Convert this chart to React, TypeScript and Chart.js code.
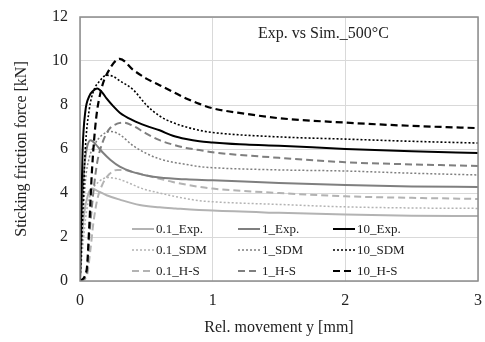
import React, { useEffect, useRef } from "react";
import { Chart, registerables } from "chart.js";

Chart.register(...registerables);

const FONT = "'Liberation Serif', 'Times New Roman', serif";

// ---- data ----
const xTickLabels = ["0", "1", "2", "3"];
const yTickLabels = ["0", "2", "4", "6", "8", "10", "12"];

const exp10X = [0, 0.01, 0.02, 0.04, 0.07, 0.1, 0.13, 0.17, 0.2, 0.25, 0.3, 0.4, 0.5, 0.6, 0.7, 0.8, 0.9, 1.0, 1.25, 1.5, 2, 2.5, 3];
const exp10Y = [0, 3.5, 6, 7.7, 8.4, 8.65, 8.75, 8.55, 8.3, 7.95, 7.65, 7.3, 7.05, 6.85, 6.6, 6.45, 6.35, 6.3, 6.2, 6.15, 6.0, 5.9, 5.82];
const sdm10X = [0, 0.02, 0.04, 0.07, 0.1, 0.15, 0.2, 0.25, 0.3, 0.4, 0.5, 0.6, 0.7, 0.8, 0.9, 1.0, 1.5, 2, 2.5, 3];
const sdm10Y = [0, 3, 6, 7.8, 8.6, 9.1, 9.35, 9.3, 9.1, 8.7, 8.0, 7.5, 7.2, 7.0, 6.85, 6.75, 6.55, 6.45, 6.35, 6.27];
const hs10X = [0, 0.05, 0.07, 0.09, 0.12, 0.16, 0.22, 0.3, 0.4, 0.5, 0.6, 0.7, 0.8, 0.9, 1.0, 1.25, 1.5, 2, 2.5, 3];
const hs10Y = [0, 0.5, 2.5, 5.0, 7.3, 8.7, 9.6, 10.1, 9.6, 9.2, 8.9, 8.6, 8.3, 8.05, 7.85, 7.6, 7.4, 7.2, 7.05, 6.95];

const exp1X = [0, 0.01, 0.03, 0.05, 0.08, 0.12, 0.17, 0.23, 0.3, 0.4, 0.5, 0.6, 0.8, 1, 1.5, 2, 2.5, 3];
const exp1Y = [0, 2.5, 5, 6, 6.4, 6.2, 5.85, 5.5, 5.2, 4.95, 4.8, 4.7, 4.62, 4.58, 4.45, 4.36, 4.3, 4.27];
const sdm1X = [0, 0.02, 0.04, 0.07, 0.11, 0.16, 0.23, 0.3, 0.4, 0.5, 0.6, 0.7, 0.8, 0.9, 1, 1.5, 2, 2.5, 3];
const sdm1Y = [0, 2.5, 4.5, 5.6, 6.2, 6.6, 6.8, 6.65, 6.15, 5.8, 5.55, 5.4, 5.3, 5.2, 5.15, 5.05, 5.0, 4.9, 4.82];
const hs1X = [0, 0.05, 0.07, 0.1, 0.13, 0.17, 0.22, 0.28, 0.33, 0.4, 0.5, 0.6, 0.7, 0.8, 0.9, 1, 1.5, 2, 2.5, 3];
const hs1Y = [0, 0.3, 2.0, 4.0, 5.4, 6.3, 6.9, 7.15, 7.2, 7.05, 6.7, 6.4, 6.2, 6.05, 5.95, 5.85, 5.6, 5.4, 5.3, 5.23];

const exp01X = [0, 0.01, 0.03, 0.06, 0.09, 0.13, 0.2, 0.3, 0.45, 0.6, 0.72, 1, 1.5, 2, 2.5, 3];
const exp01Y = [0, 1.5, 3.0, 3.9, 4.2, 4.1, 3.9, 3.7, 3.45, 3.35, 3.3, 3.2, 3.1, 3.02, 2.97, 2.95];
const sdm01X = [0, 0.02, 0.05, 0.09, 0.14, 0.21, 0.28, 0.35, 0.47, 0.6, 0.75, 0.9, 1, 1.5, 2, 2.5, 3];
const sdm01Y = [0, 1.5, 3.2, 4.1, 4.5, 4.7, 4.65, 4.5, 4.2, 4.0, 3.8, 3.65, 3.6, 3.48, 3.37, 3.32, 3.3];
const hs01X = [0, 0.05, 0.08, 0.1, 0.13, 0.17, 0.22, 0.28, 0.33, 0.4, 0.5, 0.6, 0.7, 0.8, 0.9, 1, 1.5, 2, 2.5, 3];
const hs01Y = [0, 0.2, 1.5, 2.6, 3.7, 4.4, 4.85, 5.05, 5.05, 4.95, 4.8, 4.65, 4.5, 4.38, 4.28, 4.2, 4.0, 3.85, 3.78, 3.73];

const chartTitle = "Exp. vs Sim._500°C";

const LIGHT = "#b3b3b3";
const MEDIUM = "#7f7f7f";
const BLACK = "#000000";

const pts = (xs: number[], ys: number[]) => xs.map((x, i) => ({ x, y: ys[i] }));

type Series = { label: string; xs: number[]; ys: number[]; color: string; dash: number[]; width: number; col: number; row: number };

const series: Series[] = [
  { label: "10_Exp.", xs: exp10X, ys: exp10Y, color: BLACK, dash: [], width: 2, col: 2, row: 0 },
  { label: "10_SDM", xs: sdm10X, ys: sdm10Y, color: BLACK, dash: [2, 2], width: 1.6, col: 2, row: 1 },
  { label: "10_H-S", xs: hs10X, ys: hs10Y, color: BLACK, dash: [7, 4], width: 2.2, col: 2, row: 2 },
  { label: "1_Exp.", xs: exp1X, ys: exp1Y, color: MEDIUM, dash: [], width: 2, col: 1, row: 0 },
  { label: "1_SDM", xs: sdm1X, ys: sdm1Y, color: MEDIUM, dash: [2, 2], width: 1.5, col: 1, row: 1 },
  { label: "1_H-S", xs: hs1X, ys: hs1Y, color: MEDIUM, dash: [7, 4], width: 2, col: 1, row: 2 },
  { label: "0.1_Exp.", xs: exp01X, ys: exp01Y, color: LIGHT, dash: [], width: 2, col: 0, row: 0 },
  { label: "0.1_SDM", xs: sdm01X, ys: sdm01Y, color: LIGHT, dash: [2, 2], width: 1.5, col: 0, row: 1 },
  { label: "0.1_H-S", xs: hs01X, ys: hs01Y, color: LIGHT, dash: [7, 4], width: 2, col: 0, row: 2 },
];

const legendColX = [132, 238, 333];
const legendRowY = [229, 250, 271];

const overlayPlugin = {
  id: "overlay",
  afterDatasetsDraw(chart: any) {
    const { ctx, chartArea } = chart;
    ctx.save();
    ctx.strokeStyle = "#8c8c8c";
    ctx.lineWidth = 1.5;
    ctx.setLineDash([]);
    ctx.strokeRect(chartArea.left, chartArea.top, chartArea.right - chartArea.left, chartArea.bottom - chartArea.top);
    ctx.fillStyle = "#222";
    ctx.font = `16px ${FONT}`;
    ctx.textAlign = "left";
    ctx.textBaseline = "middle";
    ctx.fillText(chartTitle, 258, 34);
    ctx.font = `13px ${FONT}`;
    chart.data.datasets.forEach((ds: any, i: number) => {
      const s = series[i];
      const x0 = legendColX[s.col];
      const y = legendRowY[s.row];
      ctx.beginPath();
      ctx.strokeStyle = ds.borderColor;
      ctx.lineWidth = ds.borderWidth;
      ctx.setLineDash(ds.borderDash || []);
      ctx.moveTo(x0, y);
      ctx.lineTo(x0 + 22, y);
      ctx.stroke();
      ctx.setLineDash([]);
      ctx.fillStyle = "#222";
      ctx.fillText(ds.label, x0 + 24, y + 1);
    });
    ctx.restore();
  },
};

export default function App() {
  const ref = useRef<HTMLCanvasElement>(null);
  useEffect(() => {
    if (!ref.current) return;
    const chart = new Chart(ref.current, {
      type: "line",
      data: {
        datasets: series.map((s) => ({
          label: s.label,
          data: pts(s.xs, s.ys),
          borderColor: s.color,
          backgroundColor: s.color,
          borderDash: s.dash,
          borderWidth: s.width,
          pointRadius: 0,
          cubicInterpolationMode: "monotone" as const,
          fill: false,
        })),
      },
      options: {
        animation: false,
        responsive: false,
        layout: { padding: { left: 0, right: 7, top: 17, bottom: 0 } },
        plugins: { legend: { display: false }, tooltip: { enabled: false } },
        scales: {
          x: {
            type: "linear",
            min: 0,
            max: 3,
            ticks: {
              stepSize: 1,
              color: "#222",
              font: { family: FONT, size: 16 },
              padding: 10,
              maxRotation: 0,
              callback: (v: any) => xTickLabels[Number(v)] ?? String(v),
            },
            grid: { color: "#d9d9d9", drawTicks: false },
            border: { display: false },
            title: {
              display: true,
              text: "Rel. movement y [mm]",
              color: "#222",
              font: { family: FONT, size: 16 },
              padding: { top: 0, bottom: 5 },
            },
            afterFit: (s: any) => {
              s.height = 61;
              s.paddingLeft = 0;
              s.paddingRight = 0;
            },
          },
          y: {
            type: "linear",
            min: 0,
            max: 12,
            ticks: {
              stepSize: 2,
              color: "#222",
              font: { family: FONT, size: 16 },
              padding: 12,
              callback: (v: any) => yTickLabels[Number(v) / 2] ?? String(v),
            },
            grid: { color: "#d9d9d9", drawTicks: false },
            border: { display: false },
            title: {
              display: true,
              text: "Sticking friction force [kN]",
              color: "#222",
              font: { family: FONT, size: 16 },
              padding: { top: 12, bottom: 0 },
            },
            afterFit: (s: any) => {
              s.width = 80;
              s.paddingTop = 0;
              s.paddingBottom = 0;
            },
          },
        },
      },
      plugins: [overlayPlugin],
    });
    return () => chart.destroy();
  }, []);
  return (
    <div style={{ position: "absolute", left: 0, top: 0, width: 485, height: 342, background: "#fff" }}>
      <canvas ref={ref} width={485} height={342} style={{ width: 485, height: 342, display: "block" }} />
    </div>
  );
}
